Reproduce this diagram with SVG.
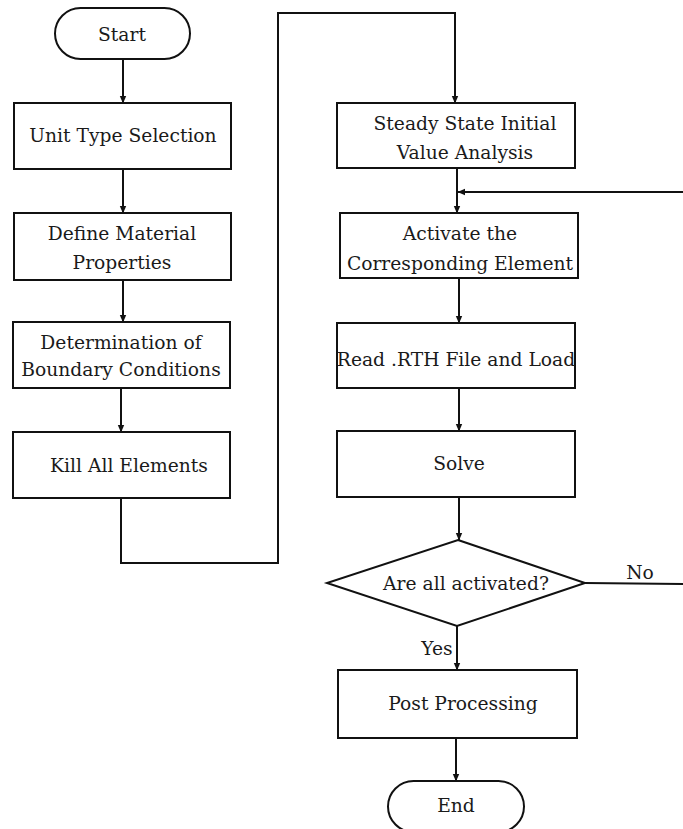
<svg xmlns="http://www.w3.org/2000/svg" width="683" height="829" viewBox="0 0 683 829">
<defs>
<marker id="arr" markerWidth="8" markerHeight="8" refX="7" refY="4" orient="auto" markerUnits="userSpaceOnUse">
<path d="M0,0.8 L7.5,4 L0,7.2 Z" fill="#111"/>
</marker>
</defs>
<style>
.n{fill:#fff;stroke:#111;stroke-width:2}
.t{font-family:"DejaVu Serif","Liberation Serif",serif;font-size:18.7px;fill:#1a1a1a;text-anchor:middle;dominant-baseline:central}
.c{fill:none;stroke:#111;stroke-width:2}
.a{fill:none;stroke:#111;stroke-width:2;marker-end:url(#arr)}
</style>
<rect width="683" height="829" fill="#fff"/>
<g id="connectors">
<line class="a" x1="123" y1="59" x2="123" y2="103"/>
<line class="a" x1="123" y1="169" x2="123" y2="213"/>
<line class="a" x1="123" y1="280" x2="123" y2="322"/>
<line class="a" x1="121" y1="388" x2="121" y2="432"/>
<polyline class="a" points="121,498 121,563 278,563 278,13 455,13 455,103"/>
<line class="a" x1="457" y1="168" x2="457" y2="213"/>
<line class="a" x1="683" y1="192" x2="458" y2="192"/>
<line class="a" x1="459" y1="278" x2="459" y2="323"/>
<line class="a" x1="459" y1="388" x2="459" y2="431"/>
<line class="a" x1="459" y1="497" x2="459" y2="540"/>
<line class="c" x1="585" y1="583" x2="683" y2="584"/>
<line class="a" x1="457" y1="626" x2="457" y2="670"/>
<line class="a" x1="456" y1="738" x2="456" y2="781"/>
<text class="t" x="640" y="572">No</text>
<text class="t" x="437" y="648">Yes</text>
</g>
<g id="start">
<rect class="n" x="55" y="8" width="135" height="51" rx="25.5"/>
<text class="t" x="122" y="34">Start</text>
</g>
<g id="unit-type">
<rect class="n" x="14" y="103" width="217" height="66"/>
<text class="t" x="123" y="135">Unit Type Selection</text>
</g>
<g id="define-material">
<rect class="n" x="14" y="213" width="217" height="67"/>
<text class="t" x="122" y="233">Define Material</text>
<text class="t" x="122" y="262">Properties</text>
</g>
<g id="boundary">
<rect class="n" x="13" y="322" width="217" height="66"/>
<text class="t" x="121" y="342">Determination of</text>
<text class="t" x="121" y="369">Boundary Conditions</text>
</g>
<g id="kill">
<rect class="n" x="13" y="432" width="217" height="66"/>
<text class="t" x="129" y="465">Kill All Elements</text>
</g>
<g id="steady">
<rect class="n" x="337" y="103" width="238" height="65"/>
<text class="t" x="465" y="123">Steady State Initial</text>
<text class="t" x="465" y="152">Value Analysis</text>
</g>
<g id="activate">
<rect class="n" x="340" y="213" width="238" height="65"/>
<text class="t" x="460" y="233">Activate the</text>
<text class="t" x="460" y="263">Corresponding Element</text>
</g>
<g id="read">
<rect class="n" x="337" y="323" width="238" height="65"/>
<text class="t" x="456" y="359">Read .RTH File and Load</text>
</g>
<g id="solve">
<rect class="n" x="337" y="431" width="238" height="66"/>
<text class="t" x="459" y="463">Solve</text>
</g>
<g id="decision">
<polygon class="n" points="458,540 585,583 457,626 327,583"/>
<text class="t" x="466" y="583">Are all activated?</text>
</g>
<g id="post">
<rect class="n" x="338" y="670" width="239" height="68"/>
<text class="t" x="463" y="703">Post Processing</text>
</g>
<g id="end">
<rect class="n" x="388" y="781" width="136" height="51" rx="25.5"/>
<text class="t" x="456" y="805">End</text>
</g>
</svg>
